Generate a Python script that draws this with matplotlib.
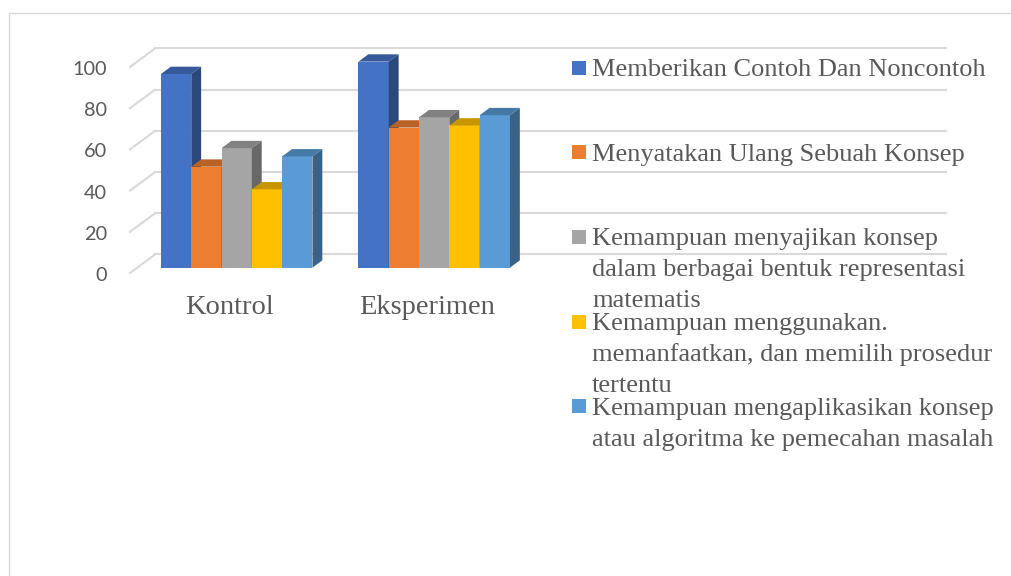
import numpy as np
import matplotlib.pyplot as plt
from matplotlib.colors import to_rgb
from matplotlib.patches import Polygon, Rectangle
from matplotlib.lines import Line2D

categories = ['Kontrol', 'Eksperimen']
series = ['Memberikan Contoh Dan Noncontoh',
          'Menyatakan Ulang Sebuah Konsep',
          'Kemampuan menyajikan konsep\ndalam berbagai bentuk representasi\nmatematis',
          'Kemampuan menggunakan.\nmemanfaatkan, dan memilih prosedur\ntertentu',
          'Kemampuan mengaplikasikan konsep\natau algoritma ke pemecahan masalah']
kontrol = [94, 49, 58, 38, 54]
eksperimen = [100, 68, 73, 69, 74]
yticks = [0, 20, 40, 60, 80, 100]
colors = ['#4472C4', '#ED7D31', '#A5A5A5', '#FFC000', '#5B9BD5']

values = np.array([kontrol, eksperimen])
txt_col = '#595959'
grid_col = '#D9D9D9'

W, H = 1011, 576
fig = plt.figure(figsize=(W / 100, H / 100), dpi=100)
ax = fig.add_axes([0, 0, 1, 1])
ax.axis('off')

# pixel scale of the fake 3d box: one category step, one value unit
sx, sy = 197.5, 2.06
x0px, y0px = 229.45, 273.0
ax.set_xlim(-x0px / sx, (W - x0px) / sx)
ax.set_ylim((y0px - H) / sy, y0px / sy)

# depth vector (front edge of floor -> back wall)
ddx, ddy = 25 / sx, 18.5 / sy
f0, f1 = 0.29, 0.685          # bar front / back depth
wall_l, wall_r = -0.5035, 3.5
bw = 30.3 / sx


def shade(c, k):
    r, g, b = to_rgb(c)
    return (r * k, g * k, b * k)


# back wall gridlines + floor diagonals
for v in yticks:
    ax.plot([wall_l, wall_l + ddx], [v, v + ddy], color=grid_col, lw=1.5, zorder=1)
    ax.plot([wall_l + ddx, wall_r + ddx], [v + ddy, v + ddy], color=grid_col, lw=1.5, zorder=1)
    ax.text(wall_l - 0.115, v - 1.2, str(v), ha='right', va='center',
            fontsize=14.3, family='Lato', color=txt_col)

# bars: front face with ax.bar, top and side faces as polygons
n = len(series)
dd = (f1 - f0) * ddx
dy = (f1 - f0) * ddy
label_v = (y0px - 307.5) / sy
for i in range(len(categories)):
    for j in range(n):
        val = values[i, j]
        xc = i + (j - (n - 1) / 2) * bw + f0 * ddx
        base = f0 * ddy
        z = 3 + j
        ax.bar(xc, val, width=bw, bottom=base, color=colors[j], linewidth=0, zorder=z)
        xl, xr = xc - bw / 2, xc + bw / 2
        top = base + val
        ax.add_patch(Polygon([(xl, top), (xr, top), (xr + dd, top + dy), (xl + dd, top + dy)],
                             closed=True, facecolor=shade(colors[j], 0.78), lw=0, zorder=z))
        ax.add_patch(Polygon([(xr, base), (xr + dd, base + dy), (xr + dd, top + dy), (xr, top)],
                             closed=True, facecolor=shade(colors[j], 0.63), lw=0, zorder=z))
    ax.text(i, label_v, categories[i], ha='center', va='center', fontsize=20.5,
            family='Liberation Serif', color=txt_col)


# legend, placed in pixel positions
def fx(px):
    return px / W


def fy(py):
    return 1 - py / H


leg_y0, leg_step = 67.7, 84.6
for j, lab in enumerate(series):
    cy = leg_y0 + j * leg_step
    fig.add_artist(Rectangle((fx(572), fy(cy + 7)), 14 / W, 14 / H,
                             transform=fig.transFigure, facecolor=colors[j], lw=0))
    for k, line in enumerate(lab.split('\n')):
        fig.text(fx(592), fy(cy + 8.5 + 31 * k), line, ha='left', va='baseline',
                 fontsize=19, family='Liberation Serif', color=txt_col)

# chart border (only left and top edges are visible)
fig.add_artist(Line2D([fx(8.5), fx(8.5)], [0, fy(12.5)], transform=fig.transFigure,
                      color=grid_col, lw=1))
fig.add_artist(Line2D([fx(8.5), 1], [fy(12.5), fy(12.5)], transform=fig.transFigure,
                      color=grid_col, lw=1))

fig.savefig('out.png', dpi=100, facecolor='white')
